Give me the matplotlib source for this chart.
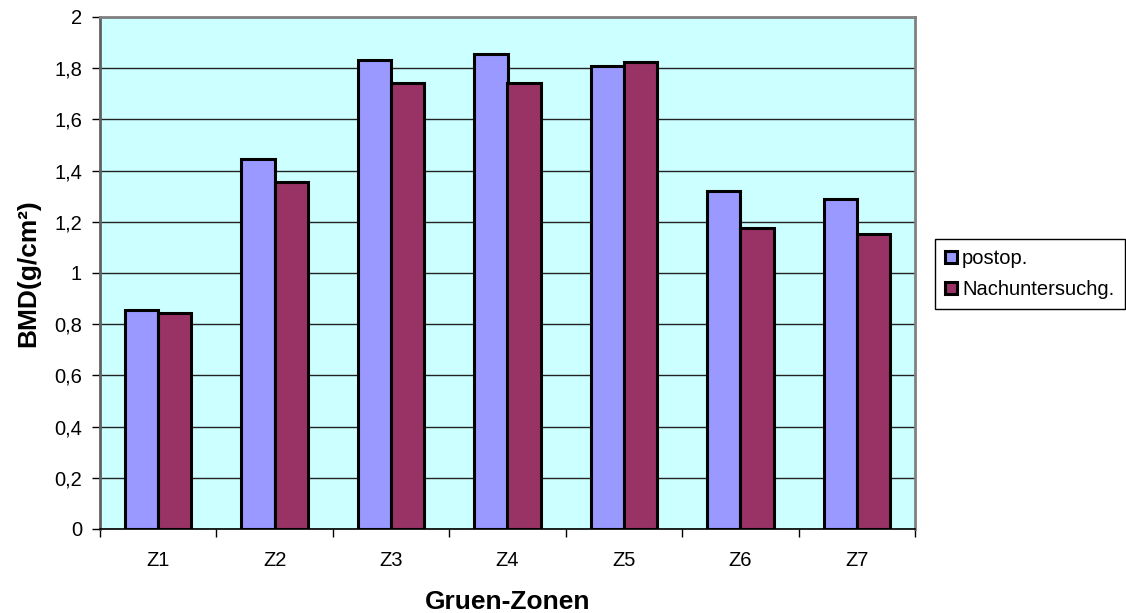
import matplotlib
matplotlib.use("Agg")
import matplotlib.pyplot as plt
import numpy as np
from matplotlib.ticker import FixedLocator, FuncFormatter

categories = ["Z1", "Z2", "Z3", "Z4", "Z5", "Z6", "Z7"]
postop = [0.855, 1.445, 1.832, 1.855, 1.810, 1.320, 1.288]
nachunters = [0.845, 1.355, 1.742, 1.742, 1.825, 1.175, 1.152]
series_names = ["postop.", "Nachuntersuchg."]
y_ticks = [0, 0.2, 0.4, 0.6, 0.8, 1.0, 1.2, 1.4, 1.6, 1.8, 2.0]

plt.rcParams['font.family'] = ['Liberation Sans', 'DejaVu Sans']

W, H = 1126, 613
fig = plt.figure(figsize=(W / 100, H / 100), dpi=100)
ax = fig.add_axes([100 / W, 1 - 529 / H, (915 - 100) / W, (529 - 17) / H])
ax.set_facecolor('#CCFFFF')

x = np.arange(len(categories))
bw = 1 / 3.5
ax.bar(x - bw / 2, postop, bw, color='#9999FF', edgecolor='black', linewidth=2.2,
       label=series_names[0], zorder=3)
ax.bar(x + bw / 2, nachunters, bw, color='#993366', edgecolor='black', linewidth=2.2,
       label=series_names[1], zorder=3)

ax.set_xlim(-0.5, len(categories) - 0.5)
ax.set_ylim(0, 2)
ax.set_yticks(y_ticks)
ax.yaxis.set_major_formatter(FuncFormatter(lambda v, p: ('%g' % round(v, 1)).replace('.', ',')))
ax.grid(axis='y', color='#222222', linewidth=1, zorder=1)
ax.set_axisbelow(True)

ax.set_xticks(x)
ax.set_xticklabels(categories)
ax.xaxis.set_minor_locator(FixedLocator(np.arange(-0.5, len(categories), 1.0)))
ax.tick_params(axis='x', which='major', length=0, pad=16, labelsize=14.5)
ax.tick_params(axis='x', which='minor', length=6, width=1, color='black', direction='out')
ax.tick_params(axis='y', length=6, width=1, direction='out', labelsize=14.5, pad=7)

for s in ['top', 'right']:
    ax.spines[s].set_color('#808080')
    ax.spines[s].set_linewidth(2)
ax.spines['left'].set_color('#606060')
ax.spines['left'].set_linewidth(2)
ax.spines['bottom'].set_color('black')
ax.spines['bottom'].set_linewidth(1.2)

ax.set_xlabel('Gruen-Zonen', fontsize=19, fontweight='bold', labelpad=14)
ax.set_ylabel('BMD(g/cm²)', fontsize=19, fontweight='bold', labelpad=10)

handles, labels = ax.get_legend_handles_labels()
leg = fig.legend(handles, labels, loc='upper left',
                 bbox_to_anchor=(935 / W, 1 - 307 / H, (1125 - 935) / W, (307 - 239) / H),
                 mode='expand', borderaxespad=0, fancybox=False, edgecolor='black',
                 framealpha=1, fontsize=14.5, handlelength=0.6, handleheight=0.6,
                 handletextpad=0.25, borderpad=0.5, labelspacing=0.6)
leg.get_frame().set_linewidth(1)

fig.savefig('out.png', dpi=100, facecolor='white')
